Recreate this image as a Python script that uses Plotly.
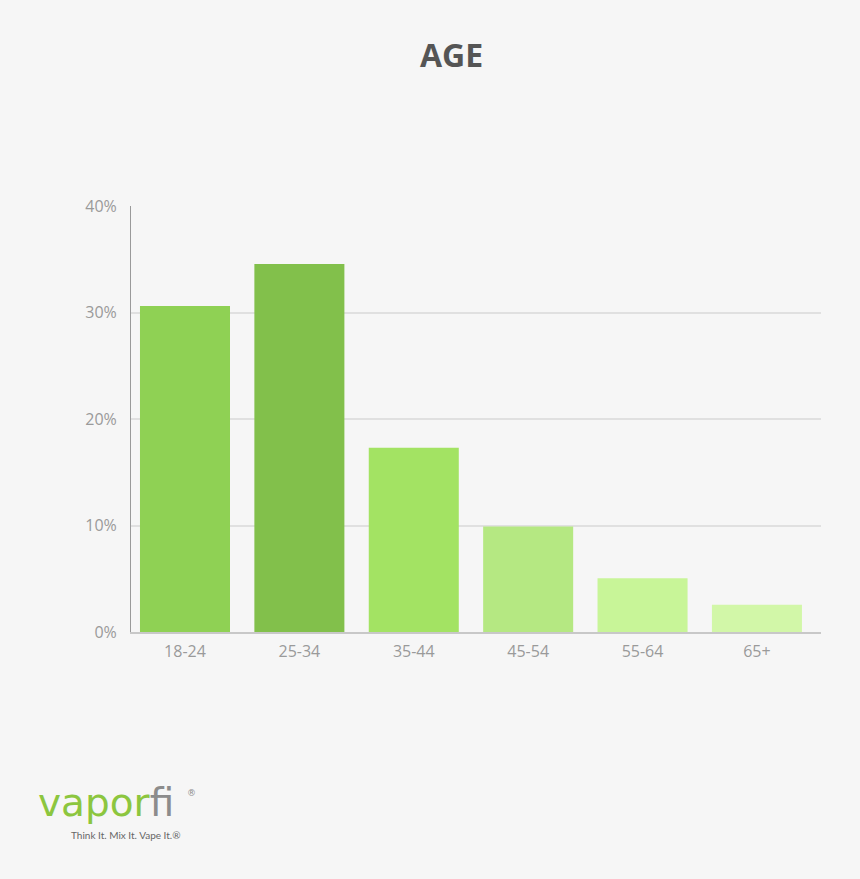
import plotly.graph_objects as go

categories = ["18-24", "25-34", "35-44", "45-54", "55-64", "65+"]
values = [30.6, 34.55, 17.3, 9.9, 5.05, 2.55]
bar_colors = ["#8fd154", "#82c04b", "#a3e363", "#b5e882", "#c8f598", "#d2f7a8"]
y_tick_vals = [0, 10, 20, 30, 40]
y_tick_text = ["0%", "10%", "20%", "30%", "40%"]

fig = go.Figure()
fig.add_trace(go.Bar(
    x=list(range(len(categories))),
    y=values,
    marker=dict(color=bar_colors, line=dict(width=0)),
    hoverinfo="skip",
))

tick_font = dict(family="Open Sans, Lato, sans-serif", size=16, color="#9a9a9a")

fig.update_layout(
    width=860, height=879, autosize=False,
    paper_bgcolor="#f6f6f6", plot_bgcolor="#f6f6f6",
    margin=dict(l=131, r=39, t=206, b=247),
    bargap=0.213,
    showlegend=False,
    title=dict(text="<b>AGE</b>", x=0.525, xanchor="center", y=0.937, yanchor="middle",
               font=dict(family="Open Sans, Roboto, sans-serif", size=32, color="#555555")),
    xaxis=dict(
        tickmode="array", tickvals=list(range(len(categories))), ticktext=categories,
        range=[-0.472, 5.56], showgrid=False, zeroline=False,
        showline=True, linecolor="#c8c8c8", linewidth=2,
        ticks="", tickfont=tick_font, ticklabelstandoff=4,
    ),
    yaxis=dict(
        range=[0, 40], tickmode="array", tickvals=y_tick_vals, ticktext=y_tick_text,
        showgrid=True, gridcolor="#e0e0e0", gridwidth=2, zeroline=False,
        showline=True, linecolor="#9a9a9a", linewidth=1,
        ticks="", tickfont=tick_font, ticklabelstandoff=10,
    ),
    annotations=[
        dict(xref="paper", yref="paper", x=-0.138, y=-0.40, xanchor="left", yanchor="middle",
             showarrow=False,
             text="<span style='color:#8cc63f'>vapor</span><span style='color:#8c8c8c'>fi</span>",
             font=dict(family="DejaVu Sans, sans-serif", size=39, color="#8cc63f")),
        dict(xref="paper", yref="paper", x=0.087, y=-0.378, xanchor="center", yanchor="middle",
             showarrow=False, text="®",
             font=dict(family="DejaVu Sans, sans-serif", size=9, color="#8c8c8c")),
        dict(xref="paper", yref="paper", x=-0.007, y=-0.476, xanchor="center", yanchor="middle",
             showarrow=False, text="Think It. Mix It. Vape It.®",
             font=dict(family="Lato, sans-serif", size=10, color="#666666")),
    ],
)

fig.write_html("out.html", config={"displayModeBar": False},
               post_script="document.body.style.margin='0';document.body.style.background='#f6f6f6';")
